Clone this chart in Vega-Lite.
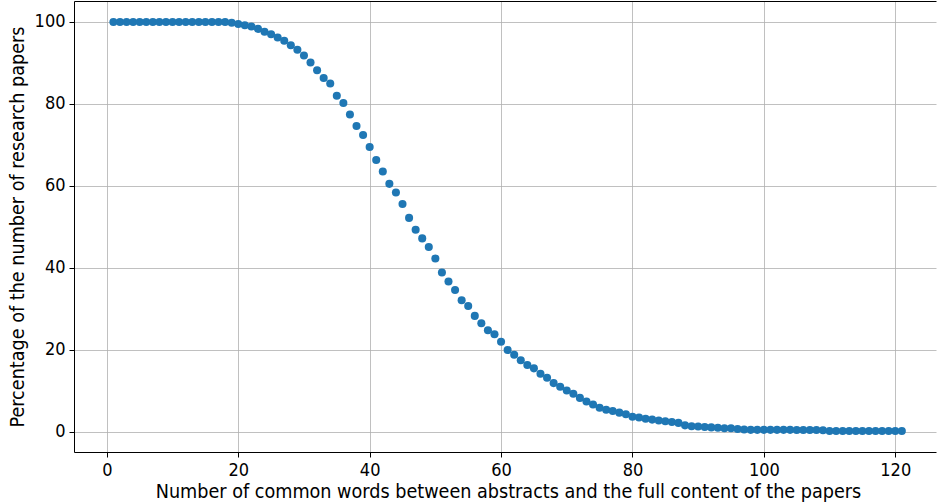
{
  "$schema": "https://vega.github.io/schema/vega-lite/v6.json",
  "width": 862,
  "height": 451,
  "autosize": {"type": "none"},
  "padding": {"left": 74, "top": 1, "right": 1, "bottom": 50},
  "background": "white",
  "config": {
    "view": {"stroke": null},
    "font": "DejaVu Sans Condensed",
    "axis": {
      "labelFont": "DejaVu Sans Condensed",
      "titleFont": "DejaVu Sans Condensed",
      "labelFontSize": 18,
      "titleFontSize": 19.6,
      "titleFontWeight": "normal",
      "labelColor": "#000000",
      "titleColor": "#000000",
      "gridColor": "#b0b0b0",
      "gridWidth": 0.8,
      "gridOpacity": 1,
      "domainColor": "#000000",
      "domainWidth": 1,
      "tickColor": "#000000",
      "tickSize": 5,
      "tickWidth": 1,
      "labelPadding": 4
    }
  },
  "data": {
    "values": [
      {"words": 1, "pct": 100}, {"words": 2, "pct": 100}, {"words": 3, "pct": 100}, {"words": 4, "pct": 100},
      {"words": 5, "pct": 100}, {"words": 6, "pct": 100}, {"words": 7, "pct": 100}, {"words": 8, "pct": 100},
      {"words": 9, "pct": 100}, {"words": 10, "pct": 100}, {"words": 11, "pct": 100}, {"words": 12, "pct": 100},
      {"words": 13, "pct": 100}, {"words": 14, "pct": 100}, {"words": 15, "pct": 100}, {"words": 16, "pct": 100},
      {"words": 17, "pct": 100}, {"words": 18, "pct": 100}, {"words": 19, "pct": 99.8}, {"words": 20, "pct": 99.5},
      {"words": 21, "pct": 99.2}, {"words": 22, "pct": 98.9}, {"words": 23, "pct": 98.3}, {"words": 24, "pct": 97.6},
      {"words": 25, "pct": 97.0}, {"words": 26, "pct": 96.2}, {"words": 27, "pct": 95.4}, {"words": 28, "pct": 94.3},
      {"words": 29, "pct": 93.2}, {"words": 30, "pct": 91.8}, {"words": 31, "pct": 90.1}, {"words": 32, "pct": 88.2},
      {"words": 33, "pct": 86.3}, {"words": 34, "pct": 85.0}, {"words": 35, "pct": 82.0}, {"words": 36, "pct": 80.2},
      {"words": 37, "pct": 77.4}, {"words": 38, "pct": 74.6}, {"words": 39, "pct": 72.4}, {"words": 40, "pct": 69.5},
      {"words": 41, "pct": 66.3}, {"words": 42, "pct": 63.5}, {"words": 43, "pct": 60.5}, {"words": 44, "pct": 58.4},
      {"words": 45, "pct": 55.6}, {"words": 46, "pct": 52.2}, {"words": 47, "pct": 49.3}, {"words": 48, "pct": 47.2},
      {"words": 49, "pct": 45.1}, {"words": 50, "pct": 42.3}, {"words": 51, "pct": 38.9}, {"words": 52, "pct": 36.7},
      {"words": 53, "pct": 34.6}, {"words": 54, "pct": 32.1}, {"words": 55, "pct": 30.7}, {"words": 56, "pct": 28.3},
      {"words": 57, "pct": 26.5}, {"words": 58, "pct": 24.8}, {"words": 59, "pct": 23.8}, {"words": 60, "pct": 22.0},
      {"words": 61, "pct": 20.0}, {"words": 62, "pct": 18.8}, {"words": 63, "pct": 17.5}, {"words": 64, "pct": 16.3},
      {"words": 65, "pct": 15.5}, {"words": 66, "pct": 14.2}, {"words": 67, "pct": 13.2}, {"words": 68, "pct": 11.9},
      {"words": 69, "pct": 11.0}, {"words": 70, "pct": 10.1}, {"words": 71, "pct": 9.3}, {"words": 72, "pct": 8.3},
      {"words": 73, "pct": 7.4}, {"words": 74, "pct": 6.7}, {"words": 75, "pct": 5.9}, {"words": 76, "pct": 5.4},
      {"words": 77, "pct": 5.1}, {"words": 78, "pct": 4.7}, {"words": 79, "pct": 4.3}, {"words": 80, "pct": 3.7},
      {"words": 81, "pct": 3.5}, {"words": 82, "pct": 3.2}, {"words": 83, "pct": 3.0}, {"words": 84, "pct": 2.8},
      {"words": 85, "pct": 2.6}, {"words": 86, "pct": 2.4}, {"words": 87, "pct": 2.2}, {"words": 88, "pct": 1.6},
      {"words": 89, "pct": 1.4}, {"words": 90, "pct": 1.3}, {"words": 91, "pct": 1.2}, {"words": 92, "pct": 1.1},
      {"words": 93, "pct": 1.0}, {"words": 94, "pct": 0.9}, {"words": 95, "pct": 0.9}, {"words": 96, "pct": 0.7},
      {"words": 97, "pct": 0.6}, {"words": 98, "pct": 0.5}, {"words": 99, "pct": 0.5}, {"words": 100, "pct": 0.5},
      {"words": 101, "pct": 0.5}, {"words": 102, "pct": 0.5}, {"words": 103, "pct": 0.5}, {"words": 104, "pct": 0.5},
      {"words": 105, "pct": 0.45}, {"words": 106, "pct": 0.45}, {"words": 107, "pct": 0.45}, {"words": 108, "pct": 0.45},
      {"words": 109, "pct": 0.4}, {"words": 110, "pct": 0.2}, {"words": 111, "pct": 0.2}, {"words": 112, "pct": 0.2},
      {"words": 113, "pct": 0.2}, {"words": 114, "pct": 0.2}, {"words": 115, "pct": 0.2}, {"words": 116, "pct": 0.2},
      {"words": 117, "pct": 0.2}, {"words": 118, "pct": 0.2}, {"words": 119, "pct": 0.2}, {"words": 120, "pct": 0.2},
      {"words": 121, "pct": 0.2}
    ]
  },
  "layer": [
    {
      "mark": {"type": "point", "filled": true, "opacity": 1, "size": 65, "color": "#1f77b4"},
      "encoding": {
        "x": {
          "field": "words",
          "type": "quantitative",
          "scale": {"domain": [-5, 126.2], "nice": false, "zero": false},
          "axis": {
            "values": [0, 20, 40, 60, 80, 100, 120],
            "title": "Number of common words between abstracts and the full content of the papers",
            "titleX": 434,
            "titlePadding": 3,
            "grid": true
          }
        },
        "y": {
          "field": "pct",
          "type": "quantitative",
          "scale": {"domain": [-4.9, 105.1], "nice": false, "zero": false},
          "axis": {
            "values": [0, 20, 40, 60, 80, 100],
            "title": "Percentage of the number of research papers",
            "titlePadding": 7,
            "grid": true
          }
        }
      }
    },
    {
      "mark": {"type": "point", "opacity": 0},
      "encoding": {
        "x": {
          "field": "words",
          "type": "quantitative",
          "axis": {"orient": "top", "labels": false, "ticks": false, "grid": false, "title": null, "domain": true, "domainColor": "#000000"}
        },
        "y": {"field": "pct", "type": "quantitative"}
      }
    }
  ],
  "resolve": {"axis": {"x": "independent"}}
}
